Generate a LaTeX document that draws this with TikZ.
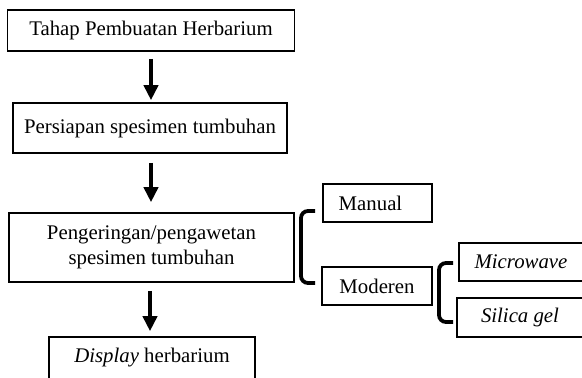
\documentclass[tikz,border=0pt]{standalone}
\usepackage{fontspec}
\setmainfont{Liberation Serif}
\usetikzlibrary{arrows.meta}
\begin{document}
\begin{tikzpicture}[x=1pt,y=-1pt,
  box/.style={draw=black,line width=1.6pt,inner sep=0pt,align=center,
    font=\fontsize{20.8}{25}\selectfont,text=black},
  flow/.style={line width=4pt,-{Triangle[width=14pt,length=15pt]}},
  brace/.style={line width=3.8pt,rounded corners=7pt}]
\useasboundingbox (0,0) rectangle (582,378);
\clip (0,0) rectangle (582,378);
\node[box,minimum width=287,minimum height=41] (b1) at (151,30.5) {Tahap Pembuatan Herbarium};
\node[box,minimum width=274,minimum height=50] (b2) at (150,128) {Persiapan spesimen tumbuhan};
\node[box,minimum width=285,minimum height=69] (b3) at (151.5,247.5) {\raisebox{-2pt}{Pengeringan/pengawetan}\\\raisebox{-2pt}{spesimen tumbuhan}};
\node[box,minimum width=206,minimum height=42] (b4) at (152,358) {\textit{Display} herbarium};
\node[box,minimum width=109,minimum height=38] (man) at (377.5,203) {Manual\hspace*{14pt}};
\node[box,minimum width=110,minimum height=38] (mod) at (377,286) {Moderen};
\node[box,minimum width=124,minimum height=38] (mic) at (521,262) {\textit{Microwave}};
\node[box,minimum width=126,minimum height=39] (sil) at (520,317.5) {\textit{Silica gel}};
\draw[flow,shorten <=7pt,shorten >=2pt] (b1.south -| 151,0) -- (b2.north -| 151,0);
\draw[flow,shorten <=9pt,shorten >=10pt] (b2.south -| 151,0) -- (b3.north -| 151,0);
\draw[flow,shorten <=8pt,shorten >=5pt] (b3.south -| 150,0) -- (b4.north -| 150,0);
\coordinate (t1) at (315,211);
\coordinate (u1) at (315,283);
\draw[brace] (t1) -- (301,211) -- (301,283) -- (u1);
\coordinate (t2) at (453,263);
\coordinate (u2) at (453,322);
\draw[brace] (t2) -- (439,263) -- (439,322) -- (u2);
\end{tikzpicture}
\end{document}
